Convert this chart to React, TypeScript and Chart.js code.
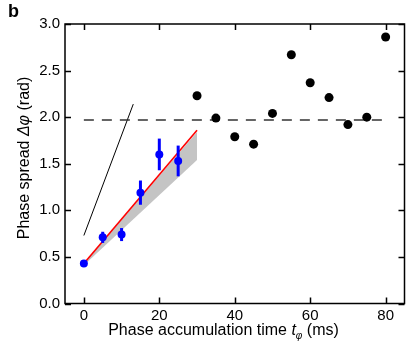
import React, { useEffect, useRef } from "react";
import { Chart, registerables } from "chart.js";

Chart.register(...registerables);

// ---- data ----
const blueTimes = [0, 5, 10, 15, 20, 25];
const blueSpread = [0.43, 0.71, 0.74, 1.19, 1.6, 1.53];
const blueErr = [0.02, 0.06, 0.07, 0.13, 0.17, 0.165];

const blackTimes = [30, 35, 40, 45, 50, 55, 60, 65, 70, 75, 80];
const blackSpread = [2.23, 1.99, 1.79, 1.71, 2.04, 2.67, 2.37, 2.21, 1.92, 2.0, 2.86];

const levelTimes = [0, 80];
const levelValues = [1.97, 1.97];

const fitTimes = [0, 30];
const fitValues = [0.43, 1.86];

const bandTimes = [0, 30];
const bandUpper = [0.43, 1.84];
const bandLower = [0.41, 1.54];

const steepTimes = [0, 13.1];
const steepValues = [0.73, 2.14];

const xTicks = [0, 20, 40, 60, 80];
const yTicks = [0, 0.5, 1.0, 1.5, 2.0, 2.5, 3.0];

const FONT = "'Liberation Sans', Arial, Helvetica, sans-serif";

const pts = (xs: number[], ys: number[]) => xs.map((x, i) => ({ x, y: ys[i] }));

type Run = { text: string; font: string; dy?: number };

function drawRuns(ctx: CanvasRenderingContext2D, runs: Run[], cx: number, baseline: number) {
  let total = 0;
  const widths = runs.map((r) => {
    ctx.font = r.font;
    const w = ctx.measureText(r.text).width;
    total += w;
    return w;
  });
  let x = cx - total / 2;
  ctx.textAlign = "left";
  ctx.textBaseline = "alphabetic";
  runs.forEach((r, i) => {
    ctx.font = r.font;
    ctx.fillText(r.text, x, baseline + (r.dy || 0));
    x += widths[i];
  });
}

const framePlugin = {
  id: "frameAndTitles",
  beforeDatasetDraw(chart: any, args: any) {
    if (args.index !== 3) return;
    const { ctx } = chart;
    const xs = chart.scales.x;
    const ys = chart.scales.y;
    ctx.save();
    ctx.strokeStyle = "#0000ff";
    ctx.lineWidth = 3;
    blueTimes.forEach((t, i) => {
      const px = xs.getPixelForValue(t);
      ctx.beginPath();
      ctx.moveTo(px, ys.getPixelForValue(blueSpread[i] - blueErr[i]));
      ctx.lineTo(px, ys.getPixelForValue(blueSpread[i] + blueErr[i]));
      ctx.stroke();
    });
    ctx.restore();
  },
  afterDraw(chart: any) {
    const { ctx, chartArea: a } = chart;
    const xs = chart.scales.x;
    const ys = chart.scales.y;
    ctx.save();
    ctx.strokeStyle = "#000";
    ctx.lineWidth = 1.5;
    ctx.strokeRect(a.left, a.top, a.right - a.left, a.bottom - a.top);
    const tl = 6;
    ctx.beginPath();
    xTicks.forEach((t) => {
      const px = Math.round(xs.getPixelForValue(t)) + 0.5;
      ctx.moveTo(px, a.bottom);
      ctx.lineTo(px, a.bottom - tl);
      ctx.moveTo(px, a.top);
      ctx.lineTo(px, a.top + tl);
    });
    yTicks.forEach((v) => {
      const py = Math.round(ys.getPixelForValue(v)) + 0.5;
      ctx.moveTo(a.left, py);
      ctx.lineTo(a.left + tl, py);
      ctx.moveTo(a.right, py);
      ctx.lineTo(a.right - tl, py);
    });
    ctx.stroke();

    ctx.fillStyle = "#000";
    // x title
    drawRuns(
      ctx,
      [
        { text: "Phase accumulation time ", font: `16px ${FONT}` },
        { text: "t", font: `italic 16px ${FONT}` },
        { text: "\u03C6", font: `italic 10px ${FONT}`, dy: 4 },
        { text: " (ms)", font: `16px ${FONT}` },
      ],
      223.5,
      335
    );
    // y title
    ctx.save();
    ctx.translate(29, 158);
    ctx.rotate(-Math.PI / 2);
    drawRuns(
      ctx,
      [
        { text: "Phase spread ", font: `16px ${FONT}` },
        { text: "\u0394\u03C6", font: `italic 16px ${FONT}` },
        { text: " (rad)", font: `16px ${FONT}` },
      ],
      0,
      0
    );
    ctx.restore();
    // panel letter
    ctx.font = `bold 18px ${FONT}`;
    ctx.textAlign = "left";
    ctx.textBaseline = "alphabetic";
    ctx.fillText("b", 8, 17);
    ctx.restore();
  },
};

export default function App() {
  const ref = useRef<HTMLCanvasElement | null>(null);
  useEffect(() => {
    if (!ref.current) return;
    const chart = new Chart(ref.current, {
      type: "scatter",
      data: {
        datasets: [
          {
            data: pts(bandTimes, bandUpper),
            showLine: true,
            borderWidth: 0,
            pointRadius: 0,
            borderColor: "rgba(0,0,0,0)",
            order: 10,
          } as any,
          {
            data: pts(bandTimes, bandLower),
            showLine: true,
            borderWidth: 0,
            pointRadius: 0,
            borderColor: "rgba(0,0,0,0)",
            backgroundColor: "rgb(196,196,196)",
            fill: 0,
            order: 9,
          } as any,
          {
            data: pts(fitTimes, fitValues),
            showLine: true,
            borderColor: "#ff0000",
            borderWidth: 1.6,
            pointRadius: 0,
            order: 8,
          } as any,
          {
            data: pts(blueTimes, blueSpread),
            showLine: false,
            pointRadius: 4,
            pointBackgroundColor: "#0000ff",
            pointBorderColor: "#0000ff",
            pointBorderWidth: 0,
            order: 7,
          } as any,
          {
            data: pts(steepTimes, steepValues),
            showLine: true,
            borderColor: "#000",
            borderWidth: 1,
            pointRadius: 0,
            order: 6,
          } as any,
          {
            data: pts(levelTimes, levelValues),
            showLine: true,
            borderColor: "#333",
            borderWidth: 1.5,
            borderDash: [10, 8],
            pointRadius: 0,
            order: 5,
          } as any,
          {
            data: pts(blackTimes, blackSpread),
            showLine: false,
            pointRadius: 4.5,
            pointBackgroundColor: "#000",
            pointBorderColor: "#000",
            pointBorderWidth: 0,
            order: 4,
          } as any,
        ],
      },
      options: {
        responsive: false,
        animation: false,
        layout: { padding: { left: 0, right: 2.5, top: 24, bottom: 0 } },
        plugins: { legend: { display: false }, tooltip: { enabled: false } },
        scales: {
          x: {
            type: "linear",
            min: -5,
            max: 85,
            afterBuildTicks: (s: any) => {
              s.ticks = xTicks.map((v) => ({ value: v }));
            },
            afterFit: (s: any) => {
              s.height = 43.5;
            },
            grid: { display: false, drawTicks: false },
            border: { display: false },
            ticks: {
              color: "#000",
              font: { family: FONT, size: 15 },
              padding: 3,
              maxRotation: 0,
            },
          },
          y: {
            type: "linear",
            min: 0,
            max: 3,
            afterBuildTicks: (s: any) => {
              s.ticks = yTicks.map((v) => ({ value: v }));
            },
            afterFit: (s: any) => {
              s.width = 65;
            },
            grid: { display: false, drawTicks: false },
            border: { display: false },
            ticks: {
              color: "#000",
              font: { family: FONT, size: 15 },
              padding: 5,
              callback: (v: any) => Number(v).toFixed(1),
            },
          },
        },
      } as any,
      plugins: [framePlugin],
    });
    return () => chart.destroy();
  }, []);
  return (
    <div style={{ position: "fixed", left: 0, top: 0, width: 409, height: 347, background: "#fff" }}>
      <canvas ref={ref} width={409} height={347} style={{ width: 409, height: 347 }} />
    </div>
  );
}
